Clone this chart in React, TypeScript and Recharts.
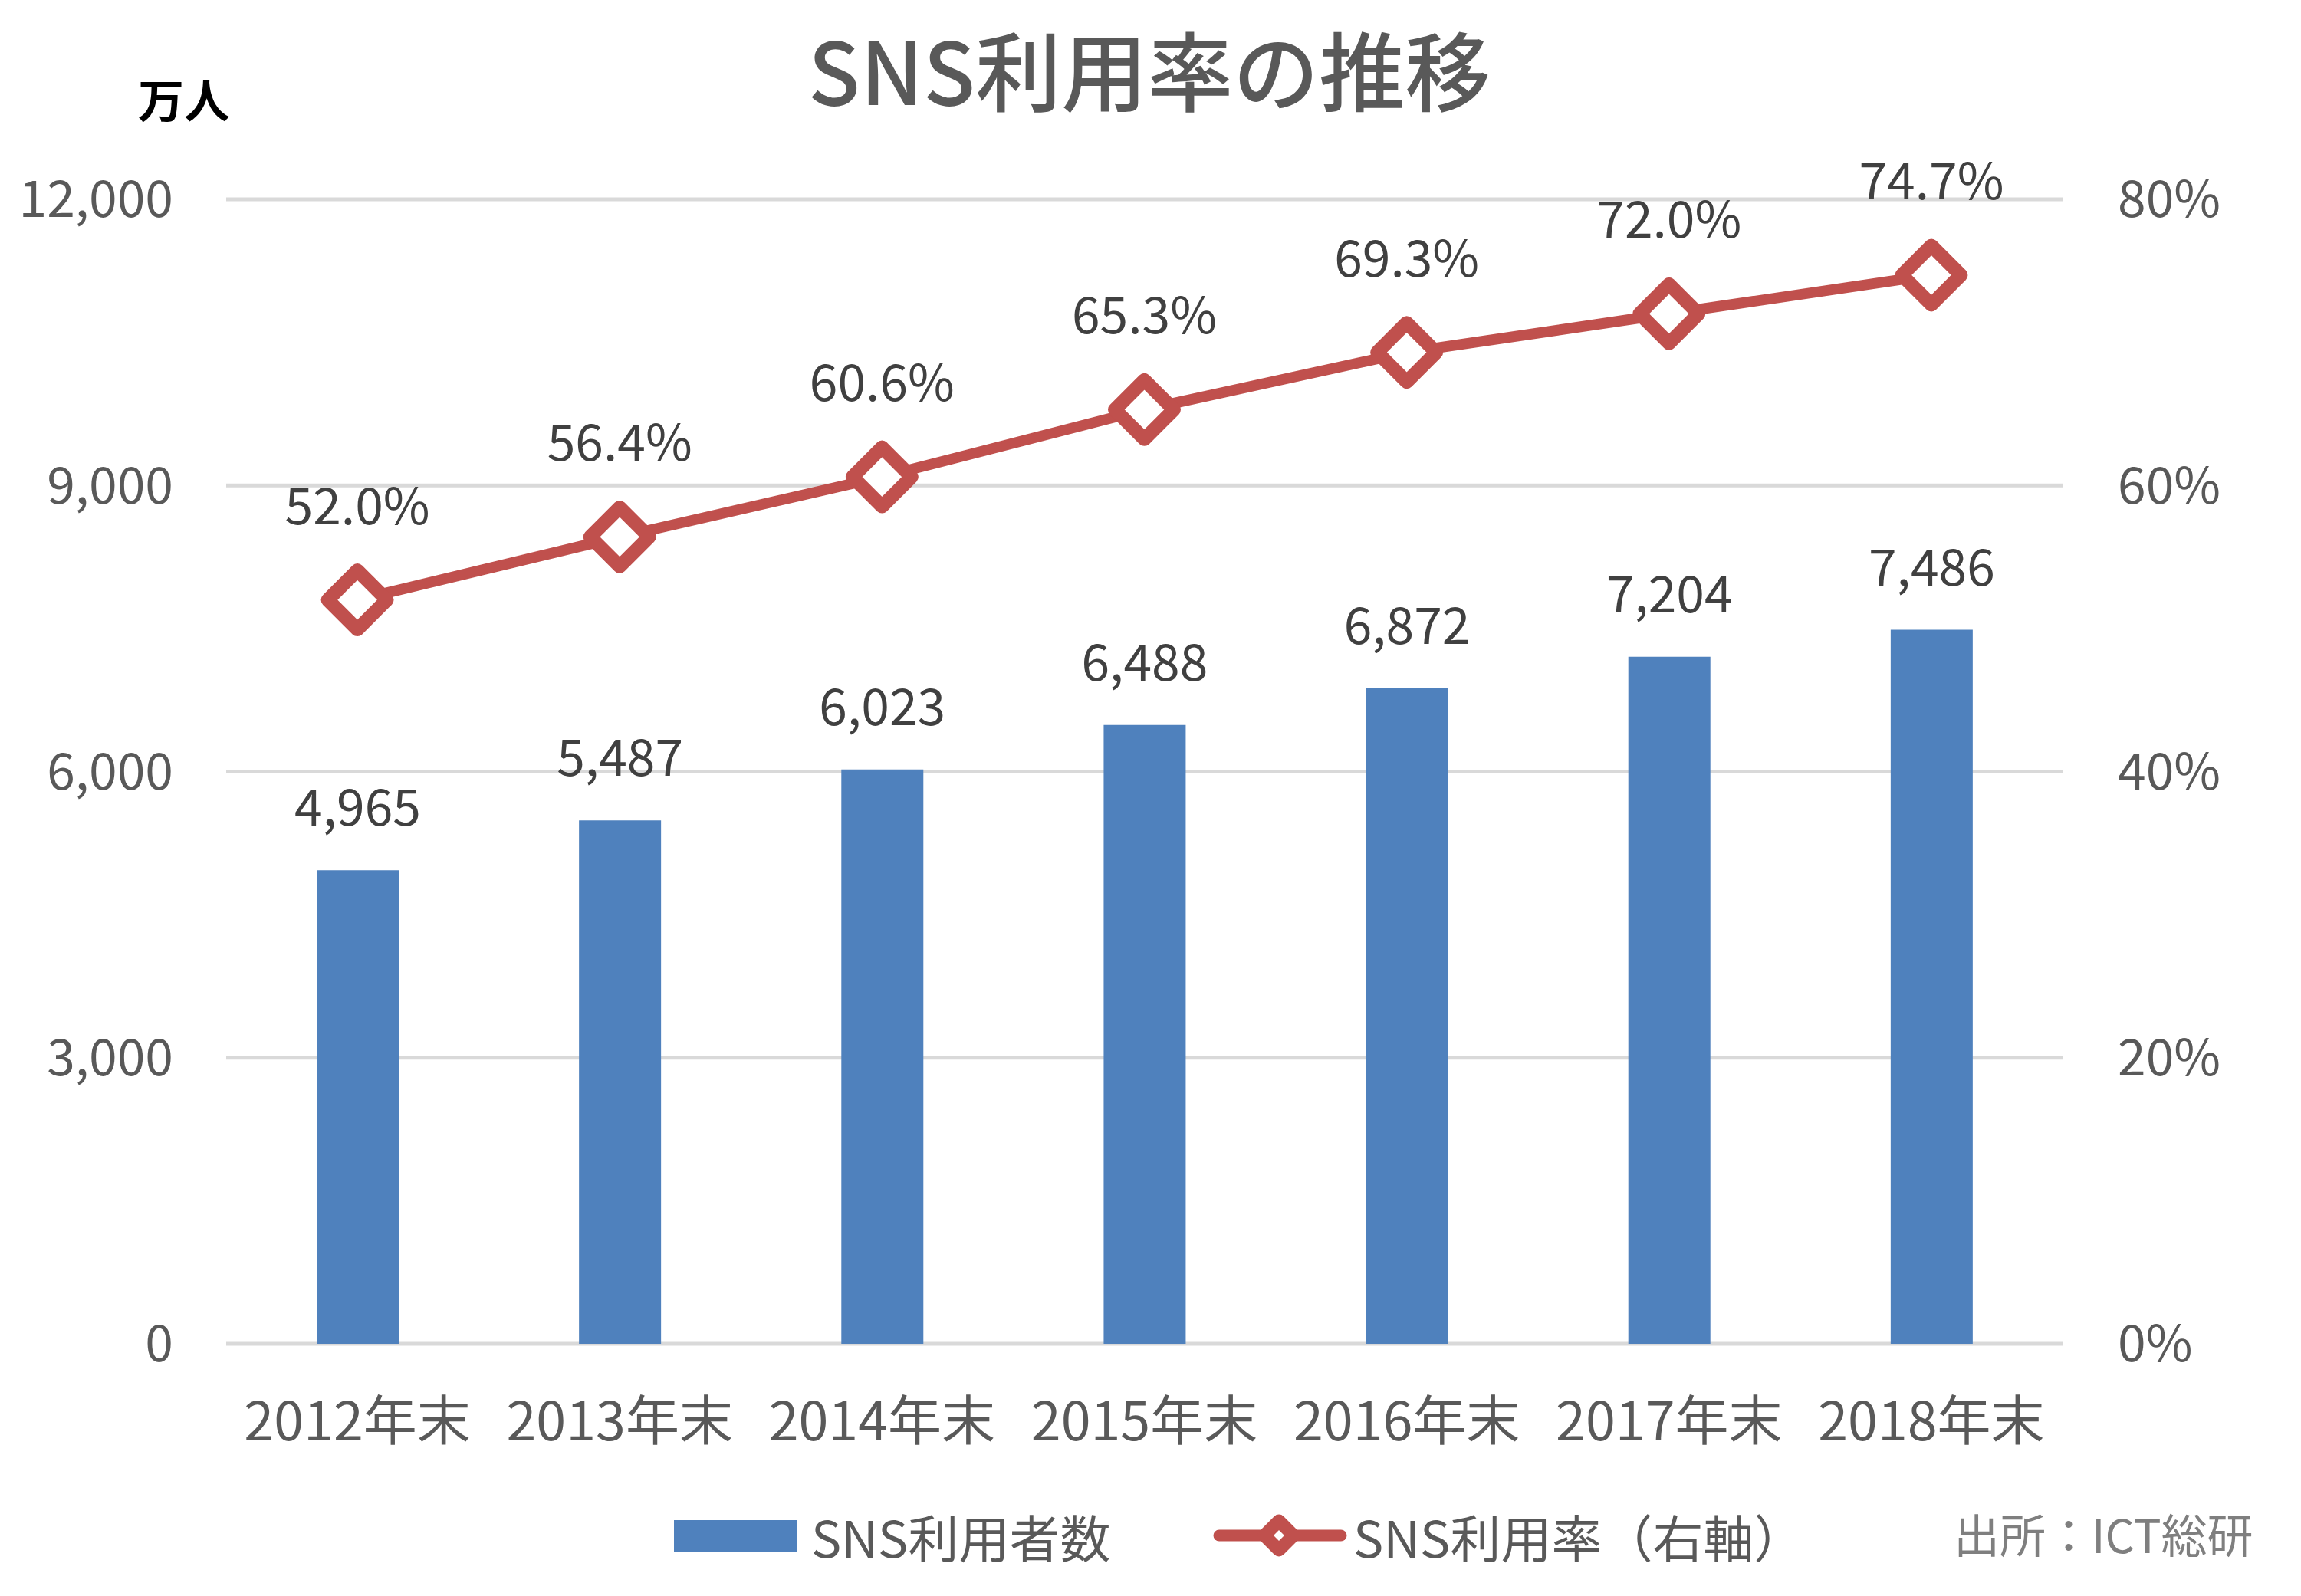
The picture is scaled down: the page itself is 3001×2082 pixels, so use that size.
import React from 'react';
import { ComposedChart, Bar, Line, XAxis, YAxis, CartesianGrid, LabelList, Legend } from 'recharts';

const categories = ['2012年末', '2013年末', '2014年末', '2015年末', '2016年末', '2017年末', '2018年末'];
const users = [4965, 5487, 6023, 6488, 6872, 7204, 7486];
const rates = [52.0, 56.4, 60.6, 65.3, 69.3, 72.0, 74.7];
const leftTicks = [0, 3000, 6000, 9000, 12000];
const rightTicks = [0, 20, 40, 60, 80];
const seriesNames = ['SNS利用者数', 'SNS利用率（右軸）'];
const titleText = 'SNS利用率の推移';
const unitText = '万人';
const sourceText = '出所：ICT総研';

const data = categories.map((c, i) => ({ name: c, users: users[i], rate: rates[i] }));

const FONT = '"Noto Sans CJK JP", "Noto Sans", sans-serif';
const BLUE = '#4F81BD';
const RED = '#C0504D';
const AXIS_TEXT = '#595959';
const LABEL_TEXT = '#404040';

const DiamondDot = (props: any) => {
  const { cx, cy, index } = props;
  if (cx == null || cy == null) return null;
  const r = 38.5;
  return (
    <path
      key={`dot-${index}`}
      d={`M${cx},${cy - r} L${cx + r},${cy} L${cx},${cy + r} L${cx - r},${cy} Z`}
      fill="#FFFFFF"
      stroke={RED}
      strokeWidth={18}
      strokeLinejoin="round"
    />
  );
};

const renderLegend = (props: any) => {
  const payload = props.payload || [];
  const barItem = payload.find((p: any) => p.dataKey === 'users');
  const lineItem = payload.find((p: any) => p.dataKey === 'rate');
  const cy = 53;
  return (
    <svg width={3001} height={110} style={{ display: 'block' }}>
      <rect x={879} y={33} width={160} height={41} fill={barItem ? barItem.color : BLUE} />
      <text x={1058} y={cy} dominantBaseline="central" fontSize={66} fontFamily={FONT} fill={AXIS_TEXT}>
        {barItem ? barItem.value : seriesNames[0]}
      </text>
      <line x1={1590} y1={cy} x2={1749} y2={cy} stroke={lineItem ? lineItem.color : RED} strokeWidth={15} strokeLinecap="round" />
      <path
        d={`M1668,${cy - 19} L1687,${cy} L1668,${cy + 19} L1649,${cy} Z`}
        fill="#FFFFFF"
        stroke={lineItem ? lineItem.color : RED}
        strokeWidth={17}
        strokeLinejoin="round"
      />
      <text x={1765} y={cy} dominantBaseline="central" fontSize={66} fontFamily={FONT} fill={AXIS_TEXT}>
        {lineItem ? lineItem.value : seriesNames[1]}
      </text>
    </svg>
  );
};

export default function App() {
  return (
    <div style={{ position: 'relative', width: 3001, height: 2082, background: '#FFFFFF', fontFamily: FONT }}>
      <style>{'body{margin:0;background:#fff;}'}</style>
      <ComposedChart
        width={3001}
        height={2082}
        data={data}
        margin={{ top: 260, right: 0, bottom: 0, left: 0 }}
      >
        <CartesianGrid yAxisId="left" vertical={false} stroke="#D9D9D9" strokeWidth={5} />
        <XAxis
          dataKey="name"
          height={329}
          axisLine={false}
          tickLine={false}
          tickSize={0}
          tickMargin={76}
          interval={0}
          tick={{ fill: AXIS_TEXT, fontSize: 70, fontFamily: FONT }}
        />
        <YAxis
          yAxisId="left"
          orientation="left"
          width={295}
          domain={[0, 12000]}
          ticks={leftTicks}
          axisLine={false}
          tickLine={false}
          tickSize={0}
          tickMargin={69}
          tickFormatter={(v: number) => v.toLocaleString('en-US')}
          tick={{ fill: AXIS_TEXT, fontSize: 66, fontFamily: FONT }}
        />
        <YAxis
          yAxisId="right"
          orientation="right"
          width={311}
          domain={[0, 80]}
          ticks={rightTicks}
          axisLine={false}
          tickLine={false}
          tickSize={0}
          tickMargin={72}
          tickFormatter={(v: number) => `${v}%`}
          tick={{ fill: AXIS_TEXT, fontSize: 66, fontFamily: FONT }}
        />
        <Bar yAxisId="left" dataKey="users" name={seriesNames[0]} fill={BLUE} barSize={107} isAnimationActive={false}>
          <LabelList
            dataKey="users"
            position="top"
            offset={58}
            fill={LABEL_TEXT}
            fontSize={66}
            fontFamily={FONT}
            formatter={(v: any) => Number(v).toLocaleString('en-US')}
          />
        </Bar>
        <Line
          yAxisId="right"
          type="linear"
          dataKey="rate"
          name={seriesNames[1]}
          stroke={RED}
          strokeWidth={14}
          dot={DiamondDot}
          activeDot={false}
          isAnimationActive={false}
        >
          <LabelList
            dataKey="rate"
            position="top"
            offset={99}
            fill={LABEL_TEXT}
            fontSize={66}
            fontFamily={FONT}
            formatter={(v: any) => `${Number(v).toFixed(1)}%`}
          />
        </Line>
        <Legend
          layout="horizontal"
          verticalAlign="middle"
          align="center"
          content={renderLegend}
          wrapperStyle={{ left: 0, top: 1950, width: 3001, height: 110 }}
        />
      </ComposedChart>
      <svg
        width={3001}
        height={2082}
        style={{ position: 'absolute', left: 0, top: 0, pointerEvents: 'none' }}
      >
        <text x={1499} y={88} textAnchor="middle" dominantBaseline="central" fontSize={112} fontWeight={500} fontFamily={FONT} fill={AXIS_TEXT}>
          {titleText}
        </text>
        <text x={240} y={127} textAnchor="middle" dominantBaseline="central" fontSize={60} fontWeight="bold" fontFamily={FONT} fill="#000000">
          {unitText}
        </text>
        <text x={2548} y={1999} dominantBaseline="central" fontSize={60} fontFamily={FONT} fill="#7F7F7F">
          {sourceText}
        </text>
      </svg>
    </div>
  );
}
